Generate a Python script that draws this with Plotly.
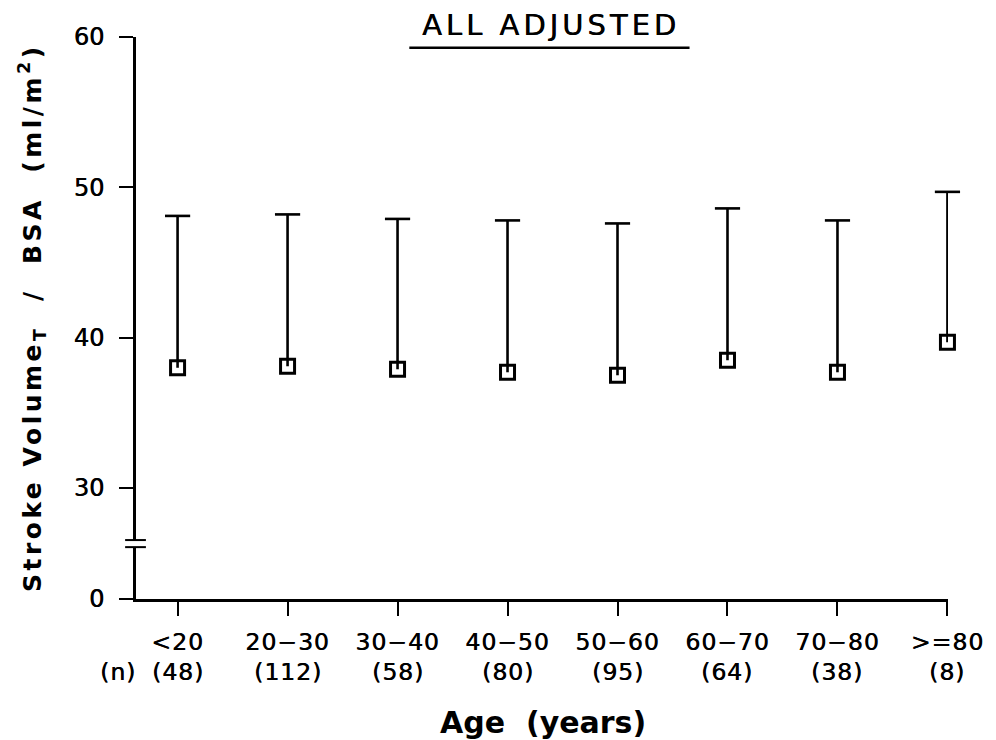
import plotly.graph_objects as go

# Age groups, group sizes and adjusted stroke volume index (mean and upper SD)
age_groups = ["<20", "20\u221230", "30\u221240", "40\u221250", "50\u221260", "60\u221270", "70\u221280", ">=80"]
group_n = [48, 112, 58, 80, 95, 64, 38, 8]
sv_mean = [38.0, 38.1, 37.9, 37.7, 37.5, 38.5, 37.7, 39.7]
sv_upper = [48.1, 48.2, 47.9, 47.8, 47.6, 48.6, 47.8, 49.7]

# Broken y axis: the bottom of the axis carries the label "0"
axis_floor = 22.62
y_tick_vals = [axis_floor, 30, 40, 50, 60]
y_tick_text = ["0", "30", "40", "50", "60"]
break_lo, break_hi = 26.07, 26.54

FONT = "DejaVu Sans"
HEAVY = "0.5px 0px 0px black"   # slightly thicker strokes for the plain labels
x_pos = list(range(len(age_groups)))
sd_plus = [u - m for u, m in zip(sv_upper, sv_mean)]


def spaced(text, px):
    return f'<span style="letter-spacing:{px}px">{text}</span>'


def label_font(size):
    return dict(family=FONT, size=size, color="black", shadow=HEAVY)


fig = go.Figure()

# Upward SD stems
fig.add_trace(go.Scatter(
    x=x_pos, y=sv_mean, mode="markers", cliponaxis=False,
    marker=dict(size=1, color="rgba(0,0,0,0)"),
    error_y=dict(type="data", symmetric=False, array=sd_plus,
                 arrayminus=[0] * len(sd_plus), width=0,
                 thickness=2.6, color="black"),
    hoverinfo="skip", showlegend=False,
))

# Caps at the top of each SD bar
fig.add_trace(go.Scatter(
    x=x_pos, y=sv_upper, mode="markers", cliponaxis=False,
    marker=dict(symbol="line-ew", size=18, line=dict(color="black", width=2.6)),
    hoverinfo="skip", showlegend=False,
))

# Group means as open squares
fig.add_trace(go.Scatter(
    x=x_pos, y=sv_mean, mode="markers", cliponaxis=False,
    marker=dict(symbol="square-open", size=14, color="black",
                line=dict(color="black", width=3)),
    showlegend=False,
))

tick_labels = [spaced(g, 1) for g in age_groups]

fig.update_layout(
    width=996, height=740,
    margin=dict(l=136, r=40, t=37, b=141),
    paper_bgcolor="white", plot_bgcolor="white",
    font=dict(family=FONT, color="black", size=23),
    xaxis=dict(
        range=[-0.378, 7.005], showgrid=False, zeroline=False,
        showline=True, linecolor="black", linewidth=2.5,
        tickmode="array", tickvals=x_pos, ticktext=tick_labels,
        ticks="outside", ticklen=14, tickwidth=2, tickcolor="black",
        ticklabelstandoff=6,
        tickfont=label_font(23.5),
    ),
    yaxis=dict(
        range=[axis_floor, 60], showgrid=False, zeroline=False,
        showline=True, linecolor="black", linewidth=3,
        tickmode="array", tickvals=y_tick_vals, ticktext=y_tick_text,
        ticks="outside", ticklen=14, tickwidth=2, tickcolor="black",
        ticklabelstandoff=10,
        tickfont=label_font(24),
    ),
)

# Group sizes beneath the age labels
for xi, n in zip(x_pos, group_n):
    fig.add_annotation(text=spaced(f"({n})", 1), xref="x", yref="paper",
                       x=xi, y=-0.13, xanchor="center", yanchor="middle",
                       showarrow=False, font=label_font(23.5))
fig.add_annotation(text=spaced("(n)", 1), xref="paper", yref="paper",
                   x=-0.022, y=-0.13, xanchor="center", yanchor="middle",
                   showarrow=False, font=label_font(23.5))

# Axis break: blank the gap and draw the double slash
fig.add_shape(type="rect", xref="paper", yref="y", x0=-0.008, x1=0.006,
              y0=break_lo, y1=break_hi, fillcolor="white", line=dict(width=0),
              layer="above")
for yb in (break_lo, break_hi):
    fig.add_shape(type="line", xref="paper", yref="y", x0=-0.0134, x1=0.0122,
                  y0=yb, y1=yb, line=dict(color="black", width=2), layer="above")

# Title with underline
fig.add_annotation(text=spaced("ALL ADJUSTED", 4), xref="paper", yref="paper",
                   x=0.511, y=1.0205, xanchor="center", yanchor="middle",
                   showarrow=False, font=label_font(29))
fig.add_shape(type="line", xref="paper", yref="paper", x0=0.3366, x1=0.6817,
              y0=0.981, y1=0.981, line=dict(color="black", width=2.5))

# Axis titles
fig.add_annotation(
    text=spaced("<b>Stroke Volume<sub>T</sub>  /  BSA  (ml/m<sup>2</sup>)</b>", 3.5),
    xref="paper", yref="paper", x=-0.128, y=0.5, textangle=-90,
    xanchor="center", yanchor="middle", showarrow=False,
    font=dict(family=FONT, size=25, color="black"))
fig.add_annotation(text="<b>Age  (years)</b>", xref="paper", yref="paper",
                   x=0.501, y=-0.219, xanchor="center", yanchor="middle",
                   showarrow=False, font=dict(family=FONT, size=30, color="black"))

fig.write_html("out.html")
